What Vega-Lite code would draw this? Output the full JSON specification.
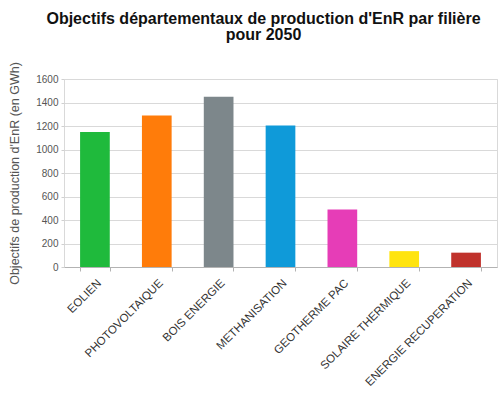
{
  "$schema": "https://vega.github.io/schema/vega-lite/v6.json",
  "autosize": "none",
  "width": 433,
  "height": 188,
  "padding": {"left": 64, "top": 79, "right": 3, "bottom": 128},
  "background": "white",
  "title": {
    "text": ["Objectifs départementaux de production d'EnR par filière", "pour 2050"],
    "font": "Liberation Sans",
    "fontSize": 16,
    "fontWeight": "bold",
    "color": "#111111",
    "anchor": "middle",
    "dx": -17,
    "offset": 19,
    "lineHeight": 16
  },
  "data": {
    "values": [
      {"filiere": "EOLIEN", "valeur": 1150, "couleur": "#1fba3c"},
      {"filiere": "PHOTOVOLTAIQUE", "valeur": 1290, "couleur": "#ff7c0a"},
      {"filiere": "BOIS ENERGIE", "valeur": 1450, "couleur": "#7d878b"},
      {"filiere": "METHANISATION", "valeur": 1205, "couleur": "#0f9ad9"},
      {"filiere": "GEOTHERME PAC", "valeur": 490, "couleur": "#e63db7"},
      {"filiere": "SOLAIRE THERMIQUE", "valeur": 135, "couleur": "#ffe40f"},
      {"filiere": "ENERGIE RECUPERATION", "valeur": 122, "couleur": "#c0322c"}
    ]
  },
  "mark": {"type": "bar"},
  "encoding": {
    "x": {
      "field": "filiere",
      "type": "nominal",
      "sort": null,
      "scale": {"paddingInner": 0.52, "paddingOuter": 0.26},
      "axis": {
        "title": null,
        "labelAngle": -45,
        "labelAlign": "right",
        "labelBaseline": "top",
        "labelFont": "Liberation Sans",
        "labelFontSize": 11.5,
        "labelColor": "#333333",
        "labelPadding": 6,
        "labelLimit": 300,
        "domainColor": "#b3b3b3",
        "tickColor": "#b3b3b3",
        "tickBand": "extent",
        "tickSize": 4,
        "grid": false
      }
    },
    "y": {
      "field": "valeur",
      "type": "quantitative",
      "scale": {"domain": [0, 1600], "nice": false},
      "axis": {
        "title": "Objectifs de production d'EnR (en GWh)",
        "titleFont": "Liberation Sans",
        "titleFontSize": 12.5,
        "titleFontWeight": "normal",
        "titleColor": "#555555",
        "titlePadding": 14,
        "format": "d",
        "values": [0, 200, 400, 600, 800, 1000, 1200, 1400, 1600],
        "labelFont": "Liberation Sans",
        "labelFontSize": 10,
        "labelColor": "#555555",
        "labelPadding": 3,
        "domain": false,
        "tickColor": "#d0d0d0",
        "tickSize": 3,
        "gridColor": "#d9d9d9"
      }
    },
    "color": {"field": "couleur", "type": "nominal", "scale": null, "legend": null}
  },
  "config": {
    "view": {"stroke": "#d9d9d9"}
  }
}
